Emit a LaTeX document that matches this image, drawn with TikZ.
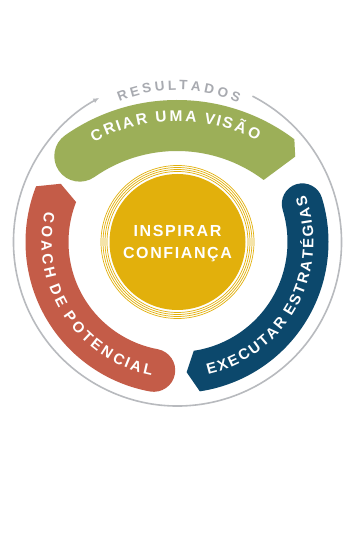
\documentclass[tikz,border=0pt]{standalone}
\usepackage{fontspec}
\setmainfont{Liberation Sans}
\newfontfamily\espaco{Liberation Sans}[LetterSpace=10]
\usetikzlibrary{arrows.meta,calc,decorations.text}
\definecolor{verde}{RGB}{156,175,88}
\definecolor{azul}{RGB}{12,72,108}
\definecolor{tijolo}{RGB}{196,92,72}
\definecolor{ouro}{RGB}{226,176,12}
\definecolor{cinza}{RGB}{184,186,190}
\definecolor{cinzatxt}{RGB}{168,170,176}
\newcommand{\faixafonte}{\fontsize{15}{15}\selectfont\bfseries}
\tikzset{anel/.style={draw=ouro,line width=0.7pt},ciclo/.style={draw=cinza,line width=1.6pt,-{Latex[length=6pt,width=5pt]}},disco/.style={circle,fill=ouro,minimum size=136pt,inner sep=0pt},rotulo/.style 2 args={decorate,decoration={text effects along path,text={#2},text effects/.cd,text along path,fit text to path,characters={inner sep=0pt,#1}}}}

\begin{document}
\begin{tikzpicture}[x=1pt,y=1pt]
\fill[white] (0,0) rectangle (350,538);
\useasboundingbox (0,0) rectangle (350,538);
\coordinate (O) at (177.5,296);
\coordinate (Cg) at (177,243);
\draw[ciclo] ($(O)+(62.8:164)$) arc[start angle=62.8,end angle=-241.5,radius=164];
\path[font=\fontsize{13.5}{13.5}\selectfont\bfseries,rotulo={text=cinzatxt,font=\fontsize{13.5}{13.5}\selectfont\bfseries}{RESULTADOS}] ($(O)+(112.5:152)$) arc[start angle=112.5,end angle=66.5,radius=152];
\fill[verde] ($(Cg)+(125:195)$) arc[start angle=125,end angle=53,radius=195] -- ($(Cg)+(49.5:182)$) -- ($(Cg)+(53:144)$) arc[start angle=53,end angle=125,radius=144] arc[start angle=305,end angle=125,radius=25.5] -- cycle;
\fill[azul] ($(O)+(17:151)$) arc[start angle=17,end angle=-81.5,radius=151] -- ($(O)+(-86:130.5)$) -- ($(O)+(-81.5:110)$) arc[start angle=-81.5,end angle=17,radius=110] arc[start angle=197,end angle=17,radius=20.5] -- cycle;
\fill[tijolo] ($(O)+(259.5:152)$) arc[start angle=259.5,end angle=158.5,radius=152] -- ($(O)+(153.5:130.5)$) -- ($(O)+(158.5:109)$) arc[start angle=158.5,end angle=259.5,radius=109] arc[start angle=79.5,end angle=-100.5,radius=21.5] -- cycle;
\path[font=\fontsize{15.5}{15.5}\selectfont\bfseries,rotulo={text=white,font=\fontsize{15.5}{15.5}\selectfont\bfseries}{CRIAR UMA VISÃO}] ($(Cg)+(118.5:174)$) arc[start angle=118.5,end angle=62.5,radius=174];
\path[font=\faixafonte,rotulo={text=white,font=\faixafonte}{EXECUTAR ESTRATÉGIAS}] ($(O)+(-77:136)$) arc[start angle=-77,end angle=20,radius=136];
\path[font=\faixafonte,rotulo={text=white,font=\faixafonte}{COACH DE POTENCIAL}] ($(O)+(167:136)$) arc[start angle=167,end angle=259,radius=136];
\node[disco] (centro) at (O) {};
\foreach \r in {70.5,72.5,74.5,76.5} \draw[anel] (centro.center) circle[radius=\r];
\node[text=white,align=center,font=\espaco\bfseries\fontsize{16}{22}\selectfont] (inspirar) at ($(centro.center)+(0,-2)$) {INSPIRAR\\CONFIANÇA};
\end{tikzpicture}
\end{document}
